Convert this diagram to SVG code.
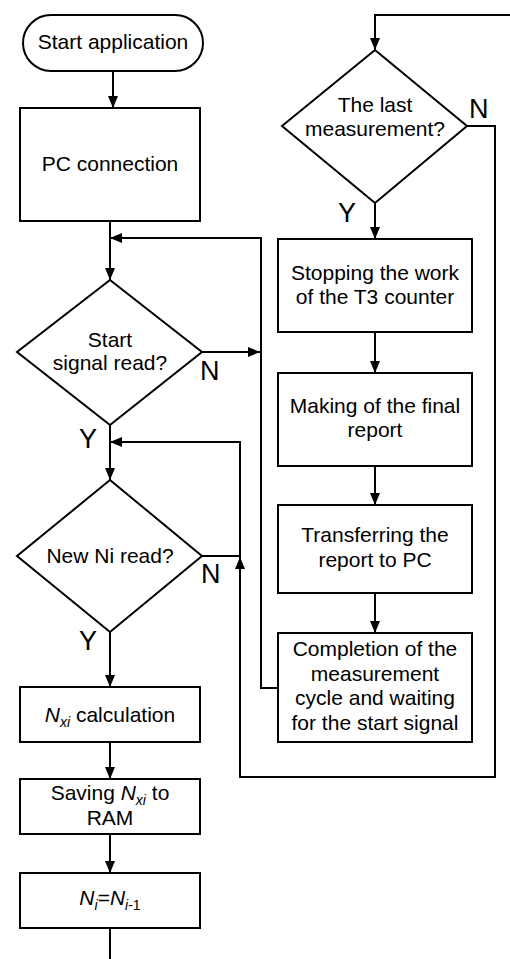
<svg xmlns="http://www.w3.org/2000/svg" width="510" height="959" viewBox="0 0 510 959">
<style>
.s{fill:#fff;stroke:#000;stroke-width:2}
.c{fill:none;stroke:#000;stroke-width:2}
.a{marker-end:url(#ah)}
text{font-family:"Liberation Sans",Arial,sans-serif;font-size:21px;fill:#000}
.t{text-anchor:middle}
.l{font-size:27px}
.i{font-style:italic}
.sub{font-size:14px}
</style>
<defs>
<marker id="ah" markerUnits="userSpaceOnUse" markerWidth="12" markerHeight="10" refX="12" refY="5" orient="auto">
<path d="M0,0 L12,5 L0,10 z" fill="#000"/>
</marker>
</defs>
<rect width="510" height="959" fill="#fff"/>
<g id="connectors">
<path class="c a" d="M113,71 V108"/>
<path class="c a" d="M110,221 V280"/>
<path class="c a" d="M278,688 H261 V238 H110"/>
<path class="c a" d="M202,352 H260"/>
<path class="c a" d="M110,425 V480"/>
<path class="c a" d="M202,556 H240 V442 H110"/>
<path class="c a" d="M467,126 H495 V777 H240 V557"/>
<path class="c a" d="M510,15 H375 V50"/>
<path class="c a" d="M110,632 V687"/>
<path class="c a" d="M110,742 V779"/>
<path class="c a" d="M110,834 V873"/>
<path class="c" d="M110,928 V959"/>
<path class="c a" d="M375,203 V239"/>
<path class="c a" d="M375,332 V373"/>
<path class="c a" d="M375,466 V505"/>
<path class="c a" d="M375,593 V633"/>
<text class="l" x="200" y="380">N</text>
<text class="l" x="79" y="448">Y</text>
<text class="l" x="201" y="583">N</text>
<text class="l" x="79" y="650">Y</text>
<text class="l" x="469" y="118">N</text>
<text class="l" x="338" y="222">Y</text>
</g>
<g id="start">
<rect class="s" x="23" y="15" width="180" height="56" rx="28"/>
<text class="t" x="113" y="49">Start application</text>
</g>
<g id="pc">
<rect class="s" x="20" y="108" width="180" height="113"/>
<text class="t" x="110" y="171">PC connection</text>
</g>
<g id="startsignal">
<path class="s" d="M110,280 L202,352 L110,425 L17,352 Z"/>
<text class="t" x="110" y="347">Start</text>
<text class="t" x="110" y="370">signal read?</text>
</g>
<g id="newni">
<path class="s" d="M110,480 L202,556 L110,632 L17,556 Z"/>
<text class="t" x="110" y="563">New Ni read?</text>
</g>
<g id="nxi">
<rect class="s" x="20" y="687" width="180" height="55"/>
<text class="t" x="110" y="722"><tspan class="i">N</tspan><tspan class="i sub" dy="5">xi</tspan><tspan dy="-5"> calculation</tspan></text>
</g>
<g id="saving">
<rect class="s" x="20" y="779" width="180" height="55"/>
<text class="t" x="110" y="800">Saving <tspan class="i">N</tspan><tspan class="i sub" dy="5">xi</tspan><tspan dy="-5"> to</tspan></text>
<text class="t" x="110" y="825">RAM</text>
</g>
<g id="ni">
<rect class="s" x="20" y="873" width="180" height="55"/>
<text class="t" x="110" y="905"><tspan class="i">N</tspan><tspan class="i sub" dy="5">i</tspan><tspan dy="-5">=</tspan><tspan class="i">N</tspan><tspan class="sub" dy="5"><tspan class="i">i</tspan>-1</tspan></text>
</g>
<g id="last">
<path class="s" d="M375,50 L467,126 L375,203 L282,126 Z"/>
<text class="t" x="375" y="112">The last</text>
<text class="t" x="375" y="136">measurement?</text>
</g>
<g id="stopping">
<rect class="s" x="278" y="239" width="194" height="93"/>
<text class="t" x="375" y="280">Stopping the work</text>
<text class="t" x="375" y="304">of the T3 counter</text>
</g>
<g id="making">
<rect class="s" x="278" y="373" width="194" height="93"/>
<text class="t" x="375" y="413">Making of the final</text>
<text class="t" x="375" y="437">report</text>
</g>
<g id="transferring">
<rect class="s" x="278" y="505" width="194" height="88"/>
<text class="t" x="375" y="542">Transferring the</text>
<text class="t" x="375" y="567">report to PC</text>
</g>
<g id="completion">
<rect class="s" x="278" y="633" width="194" height="109"/>
<text class="t" x="375" y="656">Completion of the</text>
<text class="t" x="375" y="681">measurement</text>
<text class="t" x="375" y="705">cycle and waiting</text>
<text class="t" x="375" y="730">for the start signal</text>
</g>
</svg>
